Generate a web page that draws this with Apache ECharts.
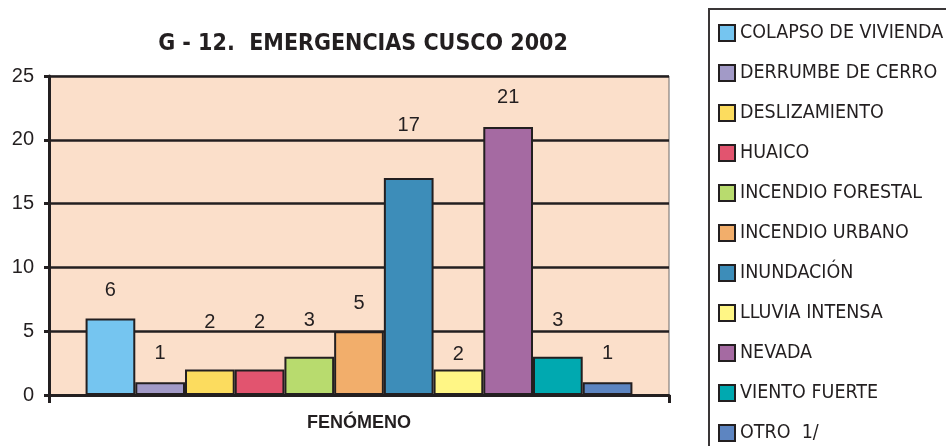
<!DOCTYPE html>
<html>
<head>
<meta charset="utf-8">
<script src="https://cdn.jsdelivr.net/npm/echarts@6/dist/echarts.min.js"></script>
<style>
  html, body { margin: 0; padding: 0; background: #fff; }
  #chart { width: 946px; height: 446px; }
</style>
</head>
<body>
<div id="chart"></div>
<script>
// datos del gráfico
const categories = ['COLAPSO DE VIVIENDA', 'DERRUMBE DE CERRO', 'DESLIZAMIENTO', 'HUAICO',
  'INCENDIO FORESTAL', 'INCENDIO URBANO', 'INUNDACIÓN', 'LLUVIA INTENSA', 'NEVADA',
  'VIENTO FUERTE', 'OTRO  1/']
const values = [6, 1, 2, 2, 3, 5, 17, 2, 21, 3, 1]
const yTicks = [0, 5, 10, 15, 20, 25]

// estilos
const colors = ['#75C5F0', '#A29AC7', '#FCDC5E', '#E2546F', '#B8DB6E', '#F2AE6B',
  '#3D8DB9', '#FFF685', '#A56AA2', '#00A9B0', '#5D85C1']
const labelGap = [18, 19, 37, 37, 26, 18, 43, 5, 20, 26, 19]
const narrow = '"Liberation Sans Narrow", "DejaVu Sans Condensed", "Arial Narrow", sans-serif'

const myChart = echarts.init(document.getElementById('chart'))

const series = categories.map((name, i) => ({
  name,
  type: 'bar',
  data: [values[i]],
  barGap: '0%',
  barCategoryGap: '11.8%',
  itemStyle: { color: colors[i], borderColor: '#231f20', borderWidth: 2 },
  label: {
    show: true,
    position: 'top',
    distance: labelGap[i],
    color: '#231f20',
    fontFamily: '"Liberation Sans", Arial, sans-serif',
    fontSize: 20
  }
}))

const option = {
  animation: false,
  title: {
    text: 'G - 12.  EMERGENCIAS CUSCO 2002',
    left: 358,
    textAlign: 'center',
    top: 28,
    textStyle: { fontFamily: narrow, fontWeight: 'bold', fontSize: 23, color: '#231f20' }
  },
  legend: {
    orient: 'vertical',
    left: 718,
    top: 23,
    padding: 0,
    icon: 'rect',
    itemWidth: 16,
    itemHeight: 16,
    itemGap: 20,
    data: categories,
    itemStyle: { borderColor: '#231f20', borderWidth: 2 },
    textStyle: { fontFamily: narrow, fontSize: 19.5, color: '#231f20' }
  },
  graphic: [{
    type: 'rect',
    shape: { x: 709, y: 9, width: 300, height: 500 },
    style: { fill: 'none', stroke: '#3a3637', lineWidth: 2 },
    z: -1
  }],
  grid: {
    left: 49,
    right: 277,
    top: 76,
    bottom: 51,
    show: true,
    backgroundColor: '#FBDFCA',
    borderColor: '#6d6a6a',
    borderWidth: 1
  },
  xAxis: {
    type: 'category',
    data: [''],
    name: 'FENÓMENO',
    nameLocation: 'middle',
    nameGap: 19,
    nameTextStyle: { fontFamily: '"Liberation Sans", Arial, sans-serif', fontWeight: 'bold', fontSize: 18, color: '#231f20' },
    axisLine: { lineStyle: { color: '#231f20', width: 3 } },
    axisTick: { show: true, length: 8, lineStyle: { color: '#231f20', width: 3 } },
    axisLabel: { show: false }
  },
  yAxis: {
    type: 'value',
    min: yTicks[0],
    max: yTicks[yTicks.length - 1],
    interval: 5,
    axisLine: { show: true, lineStyle: { color: '#231f20', width: 3 } },
    axisTick: { show: true, length: 5, lineStyle: { color: '#231f20', width: 3 } },
    axisLabel: { margin: 15, fontFamily: '"Liberation Sans", Arial, sans-serif', fontSize: 20, color: '#231f20' },
    splitLine: { lineStyle: { color: '#231f20', width: 2.5 } }
  },
  series
}
myChart.setOption(option)
</script>
</body>
</html>
